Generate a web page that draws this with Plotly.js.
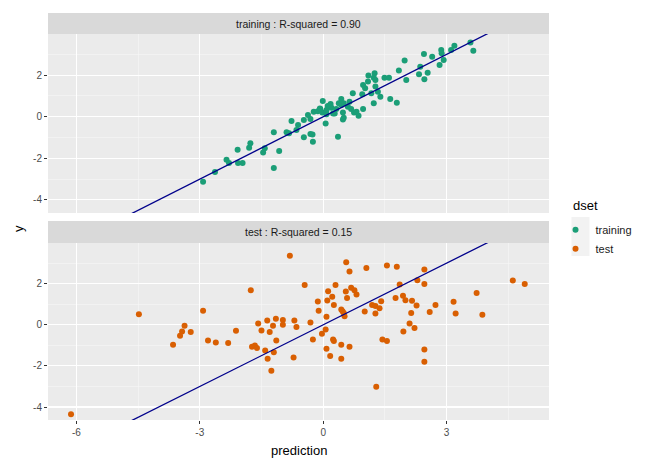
<!DOCTYPE html>
<html>
<head>
<meta charset="utf-8">
<script src="https://cdn.plot.ly/plotly-3.0.1.min.js"></script>
<style>
  html, body { margin: 0; padding: 0; background: #fff; }
  #chart { width: 645px; height: 469px; }
</style>
</head>
<body>
<div id="chart"></div>
<script>
// values (prediction vs y, identity line)
const trainPred = [-2.92,-2.63,-2.35,-2.29,-2.07,-1.96,-2.08,-1.80,-1.77,-1.46,-1.42,-1.20,-1.20,-1.07,-0.89,-0.83,-0.77,-0.65,-0.61,-0.47,
  -0.47,-0.37,-0.31,-0.31,-0.26,-0.25,-0.23,-0.13,-0.07,-0.02,-0.01,0.06,0.08,0.20,0.28,0.36,0.32,0.44,0.44,0.48,
  0.50,0.60,0.64,0.68,0.72,0.75,0.81,0.86,0.97,0.95,0.97,1.02,1.10,0.48,0.50,0.38,0.18,1.09,1.17,1.23,
  1.23,1.25,1.27,1.27,1.33,1.39,1.49,1.60,1.63,1.79,1.84,1.98,2.02,2.33,2.36,2.45,2.46,2.54,2.65,2.83,
  2.87,2.88,2.93,3.11,3.19,3.58,3.65,-0.08,0.08,0.24,0.11];
const trainY = [-3.13,-2.66,-2.07,-2.23,-2.23,-2.23,-1.59,-1.49,-1.28,-1.72,-1.52,-2.46,-0.74,-1.65,-0.74,-0.79,-0.21,-0.64,-0.40,-0.16,
  -0.99,0.08,-0.11,-0.83,-0.85,-1.20,0.24,0.27,0.37,0.21,0.76,-0.32,0.12,0.43,0.16,-0.96,0.37,0.85,0.56,0.21,
  0.65,0.48,0.72,0.37,1.13,0.21,0.24,0.05,0.37,1.08,1.53,1.37,1.98,-0.13,-0.05,0.65,0.61,1.69,1.13,0.65,
  1.88,2.09,1.77,1.45,1.20,0.96,1.88,1.88,0.85,0.67,2.22,2.70,1.77,2.04,2.41,3.02,1.80,2.12,2.89,2.49,
  3.21,3.06,2.73,3.21,3.41,3.57,3.17,0.40,0.32,0.16,0.52];

const testPred = [-6.13,-4.48,-3.65,-3.48,-3.43,-3.37,-3.22,-2.92,-2.80,-2.61,-2.31,-2.12,-1.76,-1.73,-1.66,-1.61,-1.58,-1.50,-1.41,-1.36,
  -1.35,-1.30,-1.26,-1.22,-1.20,-1.15,-1.14,-0.98,-0.98,-0.81,-0.72,-0.70,-0.65,-0.45,-0.31,-0.25,-0.13,-0.11,-0.03,0.06,
  0.08,0.08,0.10,0.12,0.17,0.22,0.24,0.26,0.26,0.30,0.44,0.47,0.50,0.52,0.44,0.44,0.55,0.56,0.58,0.64,
  0.64,0.68,0.76,0.81,1.01,1.05,1.19,1.27,1.27,1.29,1.55,1.79,1.86,1.37,1.41,1.44,1.55,1.76,1.94,2.00,
  1.95,2.10,2.14,2.16,2.22,2.27,2.29,2.46,2.46,2.46,2.46,2.59,2.73,3.17,3.22,3.73,3.87,4.61,4.90];
const testY = [-4.35,0.52,-0.97,-0.53,-0.33,-0.05,-0.35,0.69,-0.76,-0.86,-0.89,-0.29,1.68,-1.07,-1.00,-1.13,0.06,-0.28,-1.25,0.21,
  -1.65,-0.35,-2.23,-0.05,-1.33,0.29,-0.76,0.23,0.00,3.36,-1.59,0.21,-0.10,1.94,0.11,-0.71,1.13,0.69,-0.44,-0.23,
  0.39,-1.17,1.18,1.63,-1.52,1.36,-0.71,-0.79,0.97,1.94,0.74,0.66,0.58,0.42,-0.97,-1.65,1.62,3.04,1.30,2.59,
  -1.07,1.80,1.68,1.47,0.65,2.77,0.96,0.91,0.55,-3.01,2.88,2.82,1.96,0.81,1.15,-0.71,-0.79,1.30,1.42,1.20,
  -0.33,0.06,0.57,1.17,-0.16,0.94,2.17,2.69,1.99,-1.20,-1.80,0.62,0.97,1.12,0.55,1.55,0.49,2.15,1.98];

const identity = [-8, 7];
const stripLabels = ['training : R-squared = 0.90', 'test : R-squared = 0.15'];
const xTicks = [-6, -3, 0, 3];
const yTicks = [-4, -2, 0, 2];

const GREEN = '#1B9E77', ORANGE = '#D95F02', LINE = '#00008B';
const xRange = [-6.69, 5.49], yRange = [-4.63, 3.98];

const traces = [
  {type:'scatter', mode:'markers', x:trainPred, y:trainY, xaxis:'x2', yaxis:'y2', name:'training',
   marker:{color:GREEN, size:6}, legendgroup:'a'},
  {type:'scatter', mode:'markers', x:testPred, y:testY, xaxis:'x', yaxis:'y', name:'test',
   marker:{color:ORANGE, size:6}, legendgroup:'a'},
  {type:'scatter', mode:'lines', x:identity, y:identity, xaxis:'x2', yaxis:'y2', showlegend:false,
   line:{color:LINE, width:1.3}, hoverinfo:'skip'},
  {type:'scatter', mode:'lines', x:identity, y:identity, xaxis:'x', yaxis:'y', showlegend:false,
   line:{color:LINE, width:1.3}, hoverinfo:'skip'}
];

const tickFont = {family:'Liberation Sans, Arial, sans-serif', size:10, color:'#4D4D4D'};
function xAxis(extra){
  return Object.assign({range:xRange, tickvals:xTicks, ticktext:xTicks.map(String), showgrid:true, gridcolor:'#FFFFFF', gridwidth:1.1,
    zeroline:false, showline:false, ticks:'outside', ticklen:3, tickwidth:1, tickcolor:'#333333', tickfont:tickFont,
    minor:{tickvals:[-4.5,-1.5,1.5,4.5], showgrid:true, gridcolor:'#F7F7F7', gridwidth:0.6, ticks:''}, fixedrange:true}, extra);
}
function yAxis(extra){
  return Object.assign({range:yRange, tickvals:yTicks, ticktext:yTicks.map(String), showgrid:true, gridcolor:'#FFFFFF', gridwidth:1.1,
    zeroline:false, showline:false, ticks:'outside', ticklen:3, tickwidth:1, tickcolor:'#333333', tickfont:tickFont,
    minor:{tickvals:[-3,-1,1,3], showgrid:true, gridcolor:'#F7F7F7', gridwidth:0.6, ticks:''}, fixedrange:true}, extra);
}

// panel geometry in paper units (strip above each panel)
const topPanel = [0.5086, 0.9484], botPanel = [0, 0.4349];
const topStrip = [0.9484, 1.0], botStrip = [0.4349, 0.4889];
// legend key backgrounds (ggplot grey95 boxes)
const keyX = [1.0449, 1.0808], keyY1 = [0.4521, 0.4988], keyY2 = [0.4029, 0.4521];

const layout = {
  width:645, height:469,
  margin:{l:48, r:96, t:13, b:49, autoexpand:false},
  paper_bgcolor:'#FFFFFF', plot_bgcolor:'#EBEBEB',
  font:{family:'Liberation Sans, Arial, sans-serif', color:'#1A1A1A'},
  xaxis:xAxis({domain:[0,1], anchor:'y'}),
  yaxis:yAxis({domain:botPanel, anchor:'x'}),
  xaxis2:xAxis({domain:[0,1], anchor:'y2', matches:'x', showticklabels:false, ticks:''}),
  yaxis2:yAxis({domain:topPanel, anchor:'x2'}),
  showlegend:true,
  legend:{x:1.013, xanchor:'left', y:0.503, yanchor:'top', bgcolor:'rgba(0,0,0,0)',
    font:{size:11, color:'#1A1A1A'}, itemwidth:30, tracegroupgap:0},
  shapes:[
    {type:'rect', xref:'paper', yref:'paper', x0:0, x1:1, y0:topStrip[0], y1:topStrip[1], fillcolor:'#D9D9D9', line:{width:0}, layer:'below'},
    {type:'rect', xref:'paper', yref:'paper', x0:0, x1:1, y0:botStrip[0], y1:botStrip[1], fillcolor:'#D9D9D9', line:{width:0}, layer:'below'},
    {type:'rect', xref:'paper', yref:'paper', x0:keyX[0], x1:keyX[1], y0:keyY1[0], y1:keyY1[1], fillcolor:'#F2F2F2', line:{width:0}, layer:'below'},
    {type:'rect', xref:'paper', yref:'paper', x0:keyX[0], x1:keyX[1], y0:keyY2[0], y1:keyY2[1], fillcolor:'#F2F2F2', line:{width:0}, layer:'below'}
  ],
  annotations:[
    {xref:'paper', yref:'paper', x:0.5, y:(topStrip[0]+topStrip[1])/2, text:stripLabels[0], showarrow:false,
     font:{size:10.5, color:'#1A1A1A'}, xanchor:'center', yanchor:'middle'},
    {xref:'paper', yref:'paper', x:0.5, y:(botStrip[0]+botStrip[1])/2, text:stripLabels[1], showarrow:false,
     font:{size:10.5, color:'#1A1A1A'}, xanchor:'center', yanchor:'middle'},
    {xref:'paper', yref:'paper', x:0.5, y:-0.074, text:'prediction', showarrow:false,
     font:{size:13, color:'#000000'}, xanchor:'center', yanchor:'middle'},
    {xref:'paper', yref:'paper', x:-0.06, y:0.4717, text:'y', showarrow:false, textangle:-90,
     font:{size:13, color:'#000000'}, xanchor:'center', yanchor:'middle'},
    {xref:'paper', yref:'paper', x:1.0449, y:0.527, text:'dset', showarrow:false,
     font:{size:13, color:'#000000'}, xanchor:'left', yanchor:'middle'}
  ]
};

Plotly.newPlot('chart', traces, layout, {displayModeBar:false, staticPlot:true});
</script>
</body>
</html>
